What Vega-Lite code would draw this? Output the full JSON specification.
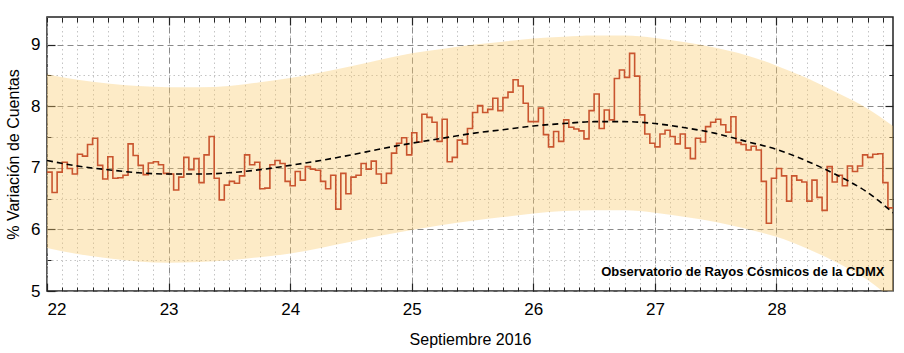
{
  "$schema": "https://vega.github.io/schema/vega-lite/v6.json",
  "width": 846,
  "height": 274,
  "autosize": {"type": "none"},
  "padding": {"left": 47, "top": 17, "right": 11, "bottom": 62},
  "background": "white",
  "config": {
    "view": {"stroke": "#222222", "strokeWidth": 1.5},
    "font": "Liberation Sans Narrow, Liberation Sans, Arial, sans-serif",
    "axis": {"labelFont": "Liberation Sans Narrow, Liberation Sans, Arial, sans-serif", "titleFont": "Liberation Sans, Arial, sans-serif", "labelColor": "#000000", "titleColor": "#000000", "tickColor": "#222222", "domain": false}
  },
  "datasets": {
    "obs": [
      {"hora": 0, "variacion": 6.93}, {"hora": 1, "variacion": 6.60}, {"hora": 2, "variacion": 6.93}, {"hora": 3, "variacion": 7.09},
      {"hora": 4, "variacion": 6.99}, {"hora": 5, "variacion": 6.90}, {"hora": 6, "variacion": 7.22}, {"hora": 7, "variacion": 7.19},
      {"hora": 8, "variacion": 7.38}, {"hora": 9, "variacion": 7.48}, {"hora": 10, "variacion": 7.04}, {"hora": 11, "variacion": 6.82},
      {"hora": 12, "variacion": 7.18}, {"hora": 13, "variacion": 6.83}, {"hora": 14, "variacion": 6.84}, {"hora": 15, "variacion": 6.88},
      {"hora": 16, "variacion": 7.39}, {"hora": 17, "variacion": 7.20}, {"hora": 18, "variacion": 7.04}, {"hora": 19, "variacion": 6.89},
      {"hora": 20, "variacion": 7.08}, {"hora": 21, "variacion": 7.10}, {"hora": 22, "variacion": 7.05}, {"hora": 23, "variacion": 6.91},
      {"hora": 24, "variacion": 6.90}, {"hora": 25, "variacion": 6.64}, {"hora": 26, "variacion": 6.85}, {"hora": 27, "variacion": 7.17},
      {"hora": 28, "variacion": 6.97}, {"hora": 29, "variacion": 7.15}, {"hora": 30, "variacion": 6.76}, {"hora": 31, "variacion": 7.21},
      {"hora": 32, "variacion": 7.51}, {"hora": 33, "variacion": 6.83}, {"hora": 34, "variacion": 6.48}, {"hora": 35, "variacion": 6.72},
      {"hora": 36, "variacion": 6.78}, {"hora": 37, "variacion": 6.75}, {"hora": 38, "variacion": 6.87}, {"hora": 39, "variacion": 7.21},
      {"hora": 40, "variacion": 7.05}, {"hora": 41, "variacion": 7.09}, {"hora": 42, "variacion": 6.66}, {"hora": 43, "variacion": 6.67},
      {"hora": 44, "variacion": 7.05}, {"hora": 45, "variacion": 7.12}, {"hora": 46, "variacion": 7.07}, {"hora": 47, "variacion": 6.78},
      {"hora": 48, "variacion": 6.71}, {"hora": 49, "variacion": 6.94}, {"hora": 50, "variacion": 6.80}, {"hora": 51, "variacion": 7.02},
      {"hora": 52, "variacion": 6.98}, {"hora": 53, "variacion": 6.96}, {"hora": 54, "variacion": 6.78}, {"hora": 55, "variacion": 6.66},
      {"hora": 56, "variacion": 6.88}, {"hora": 57, "variacion": 6.33}, {"hora": 58, "variacion": 6.91}, {"hora": 59, "variacion": 6.58},
      {"hora": 60, "variacion": 6.85}, {"hora": 61, "variacion": 6.88}, {"hora": 62, "variacion": 7.07}, {"hora": 63, "variacion": 6.98},
      {"hora": 64, "variacion": 7.11}, {"hora": 65, "variacion": 6.90}, {"hora": 66, "variacion": 6.75}, {"hora": 67, "variacion": 6.91},
      {"hora": 68, "variacion": 7.24}, {"hora": 69, "variacion": 7.40}, {"hora": 70, "variacion": 7.49}, {"hora": 71, "variacion": 7.21},
      {"hora": 72, "variacion": 7.57}, {"hora": 73, "variacion": 7.42}, {"hora": 74, "variacion": 7.87}, {"hora": 75, "variacion": 7.82},
      {"hora": 76, "variacion": 7.74}, {"hora": 77, "variacion": 7.43}, {"hora": 78, "variacion": 7.79}, {"hora": 79, "variacion": 7.10},
      {"hora": 80, "variacion": 7.17}, {"hora": 81, "variacion": 7.45}, {"hora": 82, "variacion": 7.39}, {"hora": 83, "variacion": 7.64},
      {"hora": 84, "variacion": 7.90}, {"hora": 85, "variacion": 8.01}, {"hora": 86, "variacion": 7.90}, {"hora": 87, "variacion": 7.95},
      {"hora": 88, "variacion": 8.13}, {"hora": 89, "variacion": 7.93}, {"hora": 90, "variacion": 8.14}, {"hora": 91, "variacion": 8.23},
      {"hora": 92, "variacion": 8.43}, {"hora": 93, "variacion": 8.33}, {"hora": 94, "variacion": 8.05}, {"hora": 95, "variacion": 7.75},
      {"hora": 96, "variacion": 7.75}, {"hora": 97, "variacion": 7.97}, {"hora": 98, "variacion": 7.54}, {"hora": 99, "variacion": 7.34},
      {"hora": 100, "variacion": 7.59}, {"hora": 101, "variacion": 7.43}, {"hora": 102, "variacion": 7.78}, {"hora": 103, "variacion": 7.66},
      {"hora": 104, "variacion": 7.63}, {"hora": 105, "variacion": 7.60}, {"hora": 106, "variacion": 7.47}, {"hora": 107, "variacion": 7.93},
      {"hora": 108, "variacion": 8.20}, {"hora": 109, "variacion": 7.64}, {"hora": 110, "variacion": 7.94}, {"hora": 111, "variacion": 7.78},
      {"hora": 112, "variacion": 8.45}, {"hora": 113, "variacion": 8.59}, {"hora": 114, "variacion": 8.47}, {"hora": 115, "variacion": 8.86},
      {"hora": 116, "variacion": 8.49}, {"hora": 117, "variacion": 7.86}, {"hora": 118, "variacion": 7.55}, {"hora": 119, "variacion": 7.40},
      {"hora": 120, "variacion": 7.34}, {"hora": 121, "variacion": 7.55}, {"hora": 122, "variacion": 7.61}, {"hora": 123, "variacion": 7.51},
      {"hora": 124, "variacion": 7.39}, {"hora": 125, "variacion": 7.55}, {"hora": 126, "variacion": 7.32}, {"hora": 127, "variacion": 7.15},
      {"hora": 128, "variacion": 7.48}, {"hora": 129, "variacion": 7.42}, {"hora": 130, "variacion": 7.67}, {"hora": 131, "variacion": 7.74},
      {"hora": 132, "variacion": 7.79}, {"hora": 133, "variacion": 7.70}, {"hora": 134, "variacion": 7.58}, {"hora": 135, "variacion": 7.83},
      {"hora": 136, "variacion": 7.41}, {"hora": 137, "variacion": 7.38}, {"hora": 138, "variacion": 7.29}, {"hora": 139, "variacion": 7.35},
      {"hora": 140, "variacion": 7.29}, {"hora": 141, "variacion": 6.78}, {"hora": 142, "variacion": 6.10}, {"hora": 143, "variacion": 6.83},
      {"hora": 144, "variacion": 6.99}, {"hora": 145, "variacion": 6.87}, {"hora": 146, "variacion": 6.46}, {"hora": 147, "variacion": 6.87},
      {"hora": 148, "variacion": 6.80}, {"hora": 149, "variacion": 6.77}, {"hora": 150, "variacion": 6.46}, {"hora": 151, "variacion": 6.80},
      {"hora": 152, "variacion": 6.52}, {"hora": 153, "variacion": 6.31}, {"hora": 154, "variacion": 7.02}, {"hora": 155, "variacion": 6.77},
      {"hora": 156, "variacion": 6.88}, {"hora": 157, "variacion": 6.71}, {"hora": 158, "variacion": 7.03}, {"hora": 159, "variacion": 6.94},
      {"hora": 160, "variacion": 7.03}, {"hora": 161, "variacion": 7.21}, {"hora": 162, "variacion": 7.17}, {"hora": 163, "variacion": 7.22},
      {"hora": 164, "variacion": 7.23}, {"hora": 165, "variacion": 6.76}, {"hora": 166, "variacion": 6.35}, {"hora": 167, "variacion": 6.35}
    ],
    "ajuste": [
      {"hora": 0, "ajuste": 7.12, "inf": 5.70, "sup": 8.52},
      {"hora": 6, "ajuste": 7.03, "inf": 5.60, "sup": 8.43},
      {"hora": 12, "ajuste": 6.97, "inf": 5.53, "sup": 8.37},
      {"hora": 18, "ajuste": 6.92, "inf": 5.48, "sup": 8.33},
      {"hora": 24, "ajuste": 6.90, "inf": 5.46, "sup": 8.31},
      {"hora": 30, "ajuste": 6.90, "inf": 5.47, "sup": 8.31},
      {"hora": 36, "ajuste": 6.92, "inf": 5.50, "sup": 8.33},
      {"hora": 42, "ajuste": 6.97, "inf": 5.55, "sup": 8.39},
      {"hora": 48, "ajuste": 7.04, "inf": 5.61, "sup": 8.46},
      {"hora": 54, "ajuste": 7.12, "inf": 5.70, "sup": 8.55},
      {"hora": 60, "ajuste": 7.21, "inf": 5.80, "sup": 8.65},
      {"hora": 66, "ajuste": 7.31, "inf": 5.90, "sup": 8.76},
      {"hora": 72, "ajuste": 7.40, "inf": 5.99, "sup": 8.86},
      {"hora": 78, "ajuste": 7.48, "inf": 6.07, "sup": 8.93},
      {"hora": 84, "ajuste": 7.56, "inf": 6.14, "sup": 9.00},
      {"hora": 90, "ajuste": 7.62, "inf": 6.20, "sup": 9.05},
      {"hora": 96, "ajuste": 7.68, "inf": 6.26, "sup": 9.10},
      {"hora": 102, "ajuste": 7.72, "inf": 6.30, "sup": 9.13},
      {"hora": 108, "ajuste": 7.75, "inf": 6.31, "sup": 9.15},
      {"hora": 114, "ajuste": 7.75, "inf": 6.31, "sup": 9.15},
      {"hora": 120, "ajuste": 7.72, "inf": 6.27, "sup": 9.11},
      {"hora": 126, "ajuste": 7.65, "inf": 6.20, "sup": 9.04},
      {"hora": 132, "ajuste": 7.56, "inf": 6.12, "sup": 8.95},
      {"hora": 138, "ajuste": 7.43, "inf": 6.01, "sup": 8.83},
      {"hora": 144, "ajuste": 7.30, "inf": 5.88, "sup": 8.66},
      {"hora": 150, "ajuste": 7.11, "inf": 5.69, "sup": 8.46},
      {"hora": 156, "ajuste": 6.88, "inf": 5.46, "sup": 8.22},
      {"hora": 162, "ajuste": 6.60, "inf": 5.18, "sup": 7.96},
      {"hora": 167, "ajuste": 6.27, "inf": 4.85, "sup": 7.68}
    ]
  },
  "resolve": {"axis": {"x": "independent", "y": "independent"}},
  "layer": [
    {
      "data": {"name": "ajuste"},
      "mark": {"type": "area", "interpolate": "monotone", "color": "#fac864", "opacity": 0.36, "clip": true},
      "encoding": {
        "x": {"field": "hora", "type": "quantitative", "scale": {"domain": [0, 167], "nice": false, "zero": false},
          "axis": {"orient": "bottom", "title": null, "labels": false, "values": [0,3,6,9,12,15,18,21,24,27,30,33,36,39,42,45,48,51,54,57,60,63,66,69,72,75,78,81,84,87,90,93,96,99,102,105,108,111,114,117,120,123,126,129,132,135,138,141,144,147,150,153,156,159,162,165],
            "grid": true, "gridColor": "#c4c4c4", "gridDash": [1.5, 3], "gridWidth": 1, "ticks": true, "tickSize": -4, "tickWidth": 1}},
        "y": {"field": "inf", "type": "quantitative", "scale": {"domain": [5, 9.45], "nice": false, "zero": false},
          "axis": {"orient": "left", "title": null, "labels": false, "values": [5.5, 6.5, 7.5, 8.5],
            "grid": true, "gridColor": "#c4c4c4", "gridDash": [1.5, 3], "gridWidth": 1, "ticks": true, "tickSize": -4, "tickWidth": 1}},
        "y2": {"field": "sup"}
      }
    },
    {
      "data": {"name": "obs"},
      "mark": {"type": "line", "interpolate": "step-after", "color": "#c9552f", "strokeWidth": 1.6, "clip": true},
      "encoding": {
        "x": {"field": "hora", "type": "quantitative", "scale": {"domain": [0, 167], "nice": false, "zero": false},
          "axis": {"orient": "bottom", "title": "Septiembre 2016", "titleFontSize": 16, "titleFontWeight": "normal", "titlePadding": 14,
            "values": [0, 24, 48, 72, 96, 120, 144], "labelExpr": "format(22 + datum.value / 24, 'd')", "labelFontSize": 17, "labelPadding": 10,
            "grid": true, "gridColor": "#8a8a8a", "gridDash": [6, 4], "gridWidth": 1, "ticks": false}},
        "y": {"field": "variacion", "type": "quantitative", "scale": {"domain": [5, 9.45], "nice": false, "zero": false},
          "axis": {"orient": "left", "title": "% Variación de Cuentas", "titleFontSize": 16, "titleFontWeight": "normal", "titlePadding": 9,
            "values": [5, 6, 7, 8, 9], "labelFontSize": 17, "labelPadding": 7,
            "grid": true, "gridColor": "#8a8a8a", "gridDash": [6, 4], "gridWidth": 1, "ticks": false}}
      }
    },
    {
      "data": {"name": "ajuste"},
      "mark": {"type": "line", "interpolate": "monotone", "color": "#000000", "strokeDash": [6, 4], "strokeWidth": 1.6, "clip": true},
      "encoding": {
        "x": {"field": "hora", "type": "quantitative", "scale": {"domain": [0, 167], "nice": false, "zero": false},
          "axis": {"orient": "top", "title": null, "labels": false, "grid": false, "values": [0,3,6,9,12,15,18,21,24,27,30,33,36,39,42,45,48,51,54,57,60,63,66,69,72,75,78,81,84,87,90,93,96,99,102,105,108,111,114,117,120,123,126,129,132,135,138,141,144,147,150,153,156,159,162,165],
            "ticks": true, "tickSize": -5, "tickWidth": 1}},
        "y": {"field": "ajuste", "type": "quantitative", "scale": {"domain": [5, 9.45], "nice": false, "zero": false},
          "axis": {"orient": "right", "title": null, "labels": false, "grid": false, "values": [5.5, 6.5, 7.5, 8.5], "ticks": true, "tickSize": -4, "tickWidth": 1}}
      }
    },
    {
      "data": {"values": [{"texto": "Observatorio de Rayos Cósmicos de la CDMX"}]},
      "mark": {"type": "text", "align": "right", "baseline": "middle", "fontWeight": "bold", "fontSize": 13, "font": "Liberation Sans Narrow, Liberation Sans, Arial, sans-serif", "color": "#000000"},
      "encoding": {
        "text": {"field": "texto"},
        "x": {"datum": 165.3, "type": "quantitative", "scale": {"domain": [0, 167], "nice": false, "zero": false},
          "axis": {"orient": "top", "title": null, "labels": false, "grid": false, "values": [24, 48, 72, 96, 120, 144], "ticks": true, "tickSize": -8, "tickWidth": 1.2}},
        "y": {"datum": 5.31, "type": "quantitative", "scale": {"domain": [5, 9.45], "nice": false, "zero": false},
          "axis": {"orient": "right", "title": null, "labels": false, "grid": false, "values": [6, 7, 8, 9], "ticks": true, "tickSize": -8, "tickWidth": 1.2}}
      }
    },
    {
      "data": {"name": "ajuste"},
      "mark": {"type": "line", "opacity": 0},
      "encoding": {
        "x": {"field": "hora", "type": "quantitative", "scale": {"domain": [0, 167], "nice": false, "zero": false},
          "axis": {"orient": "bottom", "title": null, "labels": false, "grid": false, "values": [0, 24, 48, 72, 96, 120, 144], "ticks": true, "tickSize": -8, "tickWidth": 1.2}},
        "y": {"field": "ajuste", "type": "quantitative", "scale": {"domain": [5, 9.45], "nice": false, "zero": false},
          "axis": {"orient": "left", "title": null, "labels": false, "grid": false, "values": [5, 6, 7, 8, 9], "ticks": true, "tickSize": -8, "tickWidth": 1.2}}
      }
    }
  ]
}
